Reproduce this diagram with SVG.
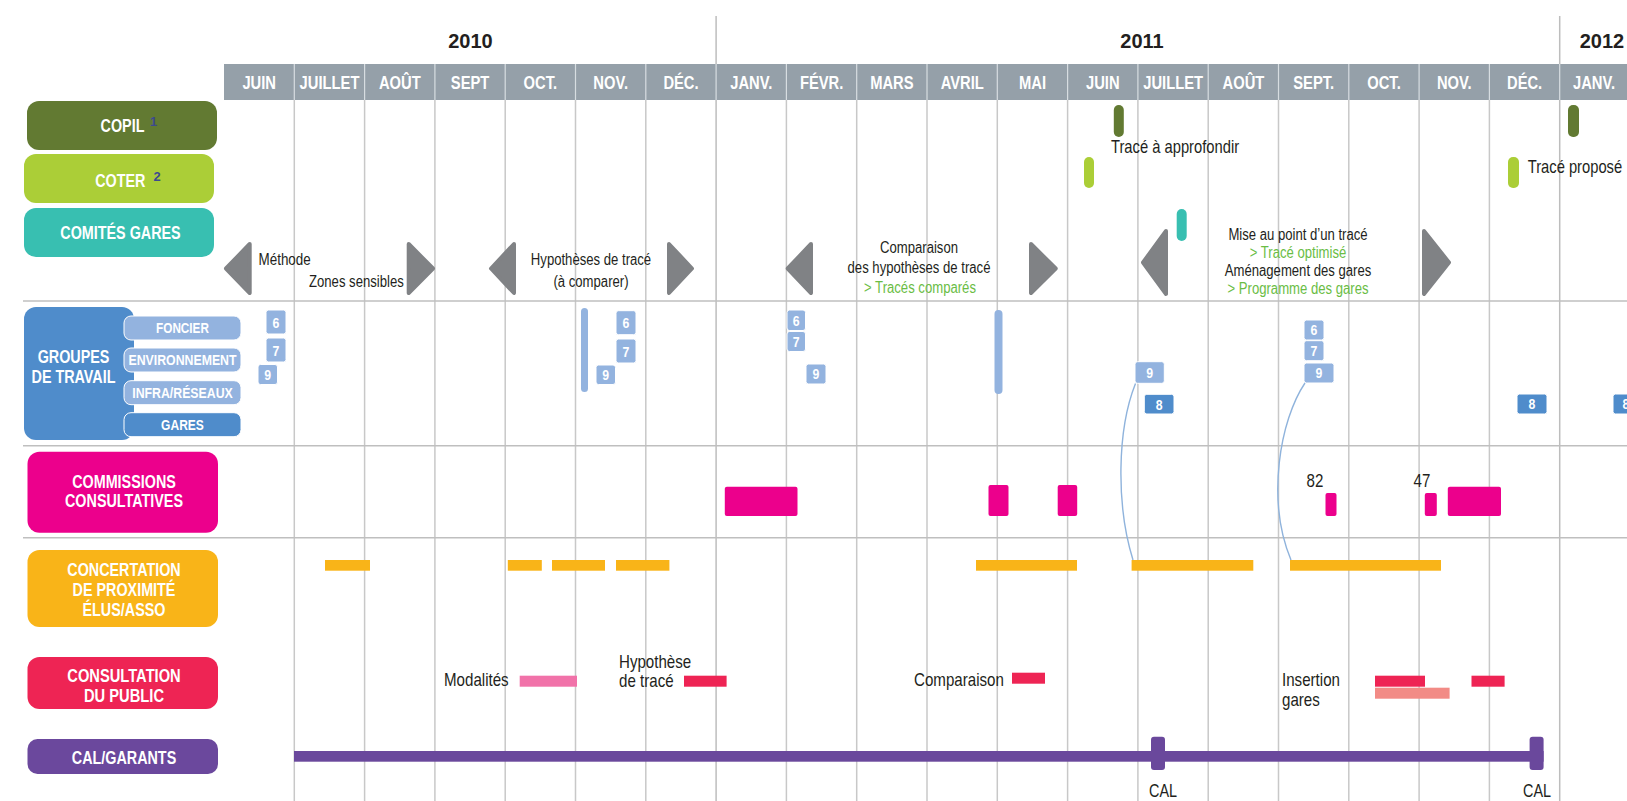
<svg xmlns="http://www.w3.org/2000/svg" width="1627" height="801" viewBox="0 0 1627 801">
<style>
text{font-family:"Liberation Sans",Arial,sans-serif;}
.yr{font-weight:bold;font-size:20px;fill:#231f20;text-anchor:middle;}
.mo{font-weight:bold;font-size:18px;fill:#fff;text-anchor:middle;}
.nl{font-weight:bold;font-size:17.5px;fill:#fff;text-anchor:middle;}
.sl{font-weight:bold;font-size:14px;fill:#fff;text-anchor:middle;}
.sup{font-weight:bold;font-size:13px;fill:#3d4a8f;}
.t{font-size:16px;fill:#231f20;}
.t2{font-size:18px;fill:#231f20;}
.c{text-anchor:middle;}
.g{fill:#6abd45;}
.bd{font-weight:bold;font-size:15px;fill:#fff;text-anchor:middle;}
.grid{stroke:#c8c8c8;stroke-width:1.5;}
.yl{stroke:#bdbdbd;stroke-width:1.5;}
.hs{stroke:#bfbfbf;stroke-width:1.6;}
.hw{stroke:#d7dde1;stroke-width:1.2;}
.arr{fill:#808285;stroke:#808285;stroke-width:4;stroke-linejoin:round;}
.lb{fill:#93b3df;stroke:#fff;stroke-width:1;}
.db{fill:#4f8ccb;stroke:#fff;stroke-width:1;}
.pk{fill:#ec008c;}
.or{fill:#f9b418;}
.rd{fill:#ee2454;}
.cn{fill:none;stroke:#8fb3dc;stroke-width:1.4;}
</style>

<g id="grid">
<line class="yl" x1="716.1" y1="16" x2="716.1" y2="801"/>
<line class="yl" x1="1559.7" y1="16" x2="1559.7" y2="801"/>
<rect x="224" y="64" width="1403" height="36" fill="#95a0a9"/>
<g class="hw">
<line x1="294.3" y1="64" x2="294.3" y2="100"/><line x1="364.6" y1="64" x2="364.6" y2="100"/><line x1="434.9" y1="64" x2="434.9" y2="100"/><line x1="505.2" y1="64" x2="505.2" y2="100"/><line x1="575.5" y1="64" x2="575.5" y2="100"/><line x1="645.8" y1="64" x2="645.8" y2="100"/><line x1="716.1" y1="64" x2="716.1" y2="100"/><line x1="786.4" y1="64" x2="786.4" y2="100"/><line x1="856.7" y1="64" x2="856.7" y2="100"/><line x1="927" y1="64" x2="927" y2="100"/><line x1="997.3" y1="64" x2="997.3" y2="100"/><line x1="1067.6" y1="64" x2="1067.6" y2="100"/><line x1="1137.9" y1="64" x2="1137.9" y2="100"/><line x1="1208.2" y1="64" x2="1208.2" y2="100"/><line x1="1278.5" y1="64" x2="1278.5" y2="100"/><line x1="1348.8" y1="64" x2="1348.8" y2="100"/><line x1="1419.1" y1="64" x2="1419.1" y2="100"/><line x1="1489.4" y1="64" x2="1489.4" y2="100"/><line x1="1559.7" y1="64" x2="1559.7" y2="100"/>
</g>
<g class="grid">
<line x1="294.3" y1="100" x2="294.3" y2="801"/><line x1="364.6" y1="100" x2="364.6" y2="801"/><line x1="434.9" y1="100" x2="434.9" y2="801"/><line x1="505.2" y1="100" x2="505.2" y2="801"/><line x1="575.5" y1="100" x2="575.5" y2="801"/><line x1="645.8" y1="100" x2="645.8" y2="801"/><line x1="786.4" y1="100" x2="786.4" y2="801"/><line x1="856.7" y1="100" x2="856.7" y2="801"/><line x1="927" y1="100" x2="927" y2="801"/><line x1="997.3" y1="100" x2="997.3" y2="801"/><line x1="1067.6" y1="100" x2="1067.6" y2="801"/><line x1="1137.9" y1="100" x2="1137.9" y2="801"/><line x1="1208.2" y1="100" x2="1208.2" y2="801"/><line x1="1278.5" y1="100" x2="1278.5" y2="801"/><line x1="1348.8" y1="100" x2="1348.8" y2="801"/><line x1="1419.1" y1="100" x2="1419.1" y2="801"/><line x1="1489.4" y1="100" x2="1489.4" y2="801"/>
</g>
<g class="hs">
<line x1="23" y1="301" x2="1627" y2="301"/>
<line x1="23" y1="445.7" x2="1627" y2="445.7"/>
<line x1="23" y1="537.7" x2="1627" y2="537.7"/>
</g>
<text class="yr" x="470.5" y="48">2010</text>
<text class="yr" x="1142" y="48">2011</text>
<text class="yr" x="1602" y="48">2012</text>
<g>
<text class="mo" transform="translate(259.2,89) scale(.82,1)">JUIN</text><text class="mo" transform="translate(329.5,89) scale(.82,1)">JUILLET</text><text class="mo" transform="translate(399.8,89) scale(.82,1)">AOÛT</text><text class="mo" transform="translate(470.1,89) scale(.82,1)">SEPT</text><text class="mo" transform="translate(540.4,89) scale(.82,1)">OCT.</text><text class="mo" transform="translate(610.7,89) scale(.82,1)">NOV.</text><text class="mo" transform="translate(681,89) scale(.82,1)">DÉC.</text><text class="mo" transform="translate(751.3,89) scale(.82,1)">JANV.</text><text class="mo" transform="translate(821.6,89) scale(.82,1)">FÉVR.</text><text class="mo" transform="translate(891.9,89) scale(.82,1)">MARS</text><text class="mo" transform="translate(962.2,89) scale(.82,1)">AVRIL</text><text class="mo" transform="translate(1032.5,89) scale(.82,1)">MAI</text><text class="mo" transform="translate(1102.8,89) scale(.82,1)">JUIN</text><text class="mo" transform="translate(1173.1,89) scale(.82,1)">JUILLET</text><text class="mo" transform="translate(1243.4,89) scale(.82,1)">AOÛT</text><text class="mo" transform="translate(1313.7,89) scale(.82,1)">SEPT.</text><text class="mo" transform="translate(1384,89) scale(.82,1)">OCT.</text><text class="mo" transform="translate(1454.3,89) scale(.82,1)">NOV.</text><text class="mo" transform="translate(1524.6,89) scale(.82,1)">DÉC.</text><text class="mo" transform="translate(1594,89) scale(.82,1)">JANV.</text>
</g>
</g>

<g id="node-copil">
<rect x="27" y="101" width="190" height="49" rx="12" fill="#627a32"/>
<text class="nl" transform="translate(122.5,132.3) scale(.82,1)">COPIL</text>
<text class="sup" x="150" y="126">1</text>
</g>
<g id="node-coter">
<rect x="24" y="154" width="190" height="49" rx="12" fill="#abce37"/>
<text class="nl" transform="translate(120.3,186.7) scale(.82,1)">COTER</text>
<text class="sup" x="153.5" y="181">2</text>
</g>
<g id="node-comites-gares">
<rect x="24" y="208" width="190" height="49" rx="12" fill="#38bfb1"/>
<text class="nl" transform="translate(120.5,239.3) scale(.82,1)">COMITÉS GARES</text>
</g>
<g id="node-groupes">
<rect x="24" y="307" width="110" height="133" rx="12" fill="#4f8ccb"/>
<text class="nl" transform="translate(73.5,362.7) scale(.82,1)">GROUPES</text>
<text class="nl" transform="translate(73.5,382.7) scale(.82,1)">DE TRAVAIL</text>
<rect class="lb" x="124" y="316" width="117" height="24" rx="7"/>
<text class="sl" transform="translate(182.5,333) scale(.84,1)">FONCIER</text>
<rect class="lb" x="124" y="348" width="117" height="24" rx="7"/>
<text class="sl" transform="translate(182.5,365) scale(.88,1)">ENVIRONNEMENT</text>
<rect class="lb" x="124" y="380.7" width="117" height="24" rx="7"/>
<text class="sl" transform="translate(182.5,397.7) scale(.88,1)">INFRA/RÉSEAUX</text>
<rect class="db" x="124" y="412.7" width="117" height="24" rx="7"/>
<text class="sl" transform="translate(182.5,429.7) scale(.86,1)">GARES</text>
</g>
<g id="node-commissions">
<rect x="27.5" y="451.7" width="190.5" height="81" rx="12" fill="#ec008c"/>
<text class="nl" transform="translate(124,488.3) scale(.82,1)">COMMISSIONS</text>
<text class="nl" transform="translate(124,507.3) scale(.82,1)">CONSULTATIVES</text>
</g>
<g id="node-concertation">
<rect x="27.5" y="550" width="190.5" height="77" rx="12" fill="#f9b418"/>
<text class="nl" transform="translate(124,576) scale(.82,1)">CONCERTATION</text>
<text class="nl" transform="translate(124,596) scale(.82,1)">DE PROXIMITÉ</text>
<text class="nl" transform="translate(124,616) scale(.82,1)">ÉLUS/ASSO</text>
</g>
<g id="node-consultation">
<rect x="27.5" y="657" width="190.5" height="52" rx="12" fill="#ee2454"/>
<text class="nl" transform="translate(124,681.7) scale(.84,1)">CONSULTATION</text>
<text class="nl" transform="translate(124,702.3) scale(.84,1)">DU PUBLIC</text>
</g>
<g id="node-cal">
<rect x="27.5" y="739" width="190.5" height="35" rx="10" fill="#6b489d"/>
<text class="nl" transform="translate(124,763.5) scale(.82,1)">CAL/GARANTS</text>
</g>

<g id="phases">
<path class="arr" d="M249.7,244 L226,268.5 L249.7,293 Z"/>
<path class="arr" d="M408.7,244 L433,268.5 L408.7,293 Z"/>
<path class="arr" d="M514,244 L491,268.5 L514,293 Z"/>
<path class="arr" d="M669,244 L692,268.5 L669,293 Z"/>
<path class="arr" d="M811,244 L787.7,268.5 L811,293 Z"/>
<path class="arr" d="M1031,244 L1055.7,268.5 L1031,293 Z"/>
<path class="arr" d="M1166,231 L1143,262.5 L1166,294 Z"/>
<path class="arr" d="M1424,231 L1449,262.5 L1424,294 Z"/>
<text class="t" transform="translate(258.5,265) scale(.84,1)">Méthode</text>
<text class="t" transform="translate(309,287) scale(.82,1)">Zones sensibles</text>
<text class="t c" transform="translate(591,265) scale(.82,1)">Hypothèses de tracé</text>
<text class="t c" transform="translate(591,287) scale(.82,1)">(à comparer)</text>
<text class="t c" transform="translate(919,253) scale(.82,1)">Comparaison</text>
<text class="t c" transform="translate(919,273) scale(.82,1)">des hypothèses de tracé</text>
<text class="t c g" transform="translate(920,293) scale(.82,1)">&gt; Tracés comparés</text>
<text class="t c" transform="translate(1298,240) scale(.82,1)">Mise au point d’un tracé</text>
<text class="t c g" transform="translate(1298,258) scale(.82,1)">&gt; Tracé optimisé</text>
<text class="t c" transform="translate(1298,276) scale(.82,1)">Aménagement des gares</text>
<text class="t c g" transform="translate(1298,294) scale(.82,1)">&gt; Programme des gares</text>
</g>

<g id="instances">
<rect x="1113.8" y="105" width="10" height="32" rx="5" fill="#627a32"/>
<rect x="1568" y="105" width="11" height="32" rx="5" fill="#627a32"/>
<text class="t2" transform="translate(1111,153) scale(.82,1)">Tracé à approfondir</text>
<rect x="1084" y="157" width="10" height="31" rx="5" fill="#abce37"/>
<rect x="1508" y="157" width="11" height="31" rx="5" fill="#abce37"/>
<text class="t2" transform="translate(1527.7,173) scale(.82,1)">Tracé proposé</text>
<rect x="1176.7" y="209" width="10" height="32" rx="5" fill="#38bfb1"/>
</g>

<g id="groupes-sessions">
<rect class="lb" x="266" y="310" width="20" height="24" rx="2.5"/><text class="bd" transform="translate(276,327.5) scale(.82,1)">6</text>
<rect class="lb" x="266" y="338" width="20" height="24" rx="2.5"/><text class="bd" transform="translate(276,355.5) scale(.82,1)">7</text>
<rect class="lb" x="258" y="364.5" width="19.5" height="20" rx="2.5"/><text class="bd" transform="translate(267.7,379.8) scale(.82,1)">9</text>
<rect x="581" y="308" width="7" height="84" rx="3.5" fill="#93b3df"/>
<rect class="lb" x="616" y="310.7" width="20" height="24" rx="2.5"/><text class="bd" transform="translate(626,328) scale(.82,1)">6</text>
<rect class="lb" x="616" y="339" width="20" height="24" rx="2.5"/><text class="bd" transform="translate(626,356.5) scale(.82,1)">7</text>
<rect class="lb" x="596" y="365" width="19.5" height="19.5" rx="2.5"/><text class="bd" transform="translate(605.7,380) scale(.82,1)">9</text>
<rect class="lb" x="787" y="310" width="18.5" height="20.5" rx="2.5"/><text class="bd" transform="translate(796.2,325.8) scale(.82,1)">6</text>
<rect class="lb" x="787" y="331.5" width="18.5" height="20" rx="2.5"/><text class="bd" transform="translate(796.2,347) scale(.82,1)">7</text>
<rect class="lb" x="806" y="364" width="20" height="20" rx="2.5"/><text class="bd" transform="translate(816,379.3) scale(.82,1)">9</text>
<rect x="994.5" y="310" width="8" height="84" rx="4" fill="#93b3df"/>
<rect class="lb" x="1135" y="361.7" width="29.3" height="21.6" rx="2.5"/><text class="bd" transform="translate(1149.6,377.8) scale(.82,1)">9</text>
<rect class="db" x="1144.3" y="394.3" width="29.7" height="19.7" rx="2.5"/><text class="bd" transform="translate(1159.1,409.5) scale(.82,1)">8</text>
<rect class="lb" x="1304" y="320" width="20" height="20" rx="2.5"/><text class="bd" transform="translate(1314,335.3) scale(.82,1)">6</text>
<rect class="lb" x="1304" y="340.7" width="20" height="20" rx="2.5"/><text class="bd" transform="translate(1314,356) scale(.82,1)">7</text>
<rect class="lb" x="1304" y="363" width="30" height="20" rx="2.5"/><text class="bd" transform="translate(1319,378.3) scale(.82,1)">9</text>
<rect class="db" x="1517" y="394" width="30" height="20" rx="2.5"/><text class="bd" transform="translate(1532,409.3) scale(.82,1)">8</text>
<rect class="db" x="1613" y="394" width="30" height="20" rx="2.5"/><text class="bd" transform="translate(1626,409.3) scale(.82,1)">8</text>
</g>

<g id="commissions-sessions">
<rect class="pk" x="724.8" y="486.7" width="72.7" height="29.3" rx="2"/>
<rect class="pk" x="988.5" y="485" width="20" height="31" rx="2"/>
<rect class="pk" x="1057.7" y="485" width="19.5" height="31" rx="2"/>
<text class="t2" transform="translate(1306.5,487.3) scale(.84,1)">82</text>
<rect class="pk" x="1325.5" y="493" width="11" height="23" rx="2"/>
<text class="t2" transform="translate(1413.5,487.3) scale(.84,1)">47</text>
<rect class="pk" x="1424.8" y="493" width="12" height="23" rx="2"/>
<rect class="pk" x="1447.8" y="486.7" width="53.2" height="29.3" rx="2"/>
</g>

<g id="concertation-sessions">
<rect class="or" x="325" y="560" width="45" height="10.7"/>
<rect class="or" x="507.8" y="560" width="34" height="10.7"/>
<rect class="or" x="552" y="560" width="53" height="10.7"/>
<rect class="or" x="616" y="560" width="53.4" height="10.7"/>
<rect class="or" x="976" y="560" width="101" height="10.7"/>
<rect class="or" x="1131.6" y="560" width="121.7" height="10.7"/>
<rect class="or" x="1290" y="560" width="151" height="10.7"/>
</g>

<g id="consultation-sessions">
<text class="t2" transform="translate(444,685.7) scale(.84,1)">Modalités</text>
<rect x="519.7" y="675.7" width="57.3" height="11" fill="#f172a9"/>
<text class="t2" transform="translate(619,667.7) scale(.84,1)">Hypothèse</text>
<text class="t2" transform="translate(619,686.7) scale(.84,1)">de tracé</text>
<rect class="rd" x="684" y="675.7" width="42.6" height="11"/>
<text class="t2" transform="translate(914,685.7) scale(.84,1)">Comparaison</text>
<rect class="rd" x="1012" y="672.7" width="33" height="11"/>
<text class="t2" transform="translate(1282,685.7) scale(.84,1)">Insertion</text>
<text class="t2" transform="translate(1282,705.7) scale(.84,1)">gares</text>
<rect class="rd" x="1375" y="675.7" width="50" height="11"/>
<rect x="1375" y="687.7" width="74.6" height="11" fill="#f28b86"/>
<rect class="rd" x="1471.5" y="675.7" width="33.1" height="11"/>
</g>

<g id="cal-timeline">
<rect x="294" y="751" width="1249.6" height="10.7" fill="#6a489c"/>
<rect x="1151" y="736.7" width="14" height="33.3" rx="3" fill="#6a489c"/>
<rect x="1529.6" y="736.7" width="14" height="33.3" rx="3" fill="#6a489c"/>
<text class="t2" transform="translate(1149,796.7) scale(.8,1)">CAL</text>
<text class="t2" transform="translate(1523,796.7) scale(.8,1)">CAL</text>
</g>

<g id="connectors">
<path class="cn" d="M1135.5,383.5 C1117,430 1116,505 1133,560"/>
<path class="cn" d="M1305,383 C1280,420 1266,500 1291,560"/>
</g>
</svg>
